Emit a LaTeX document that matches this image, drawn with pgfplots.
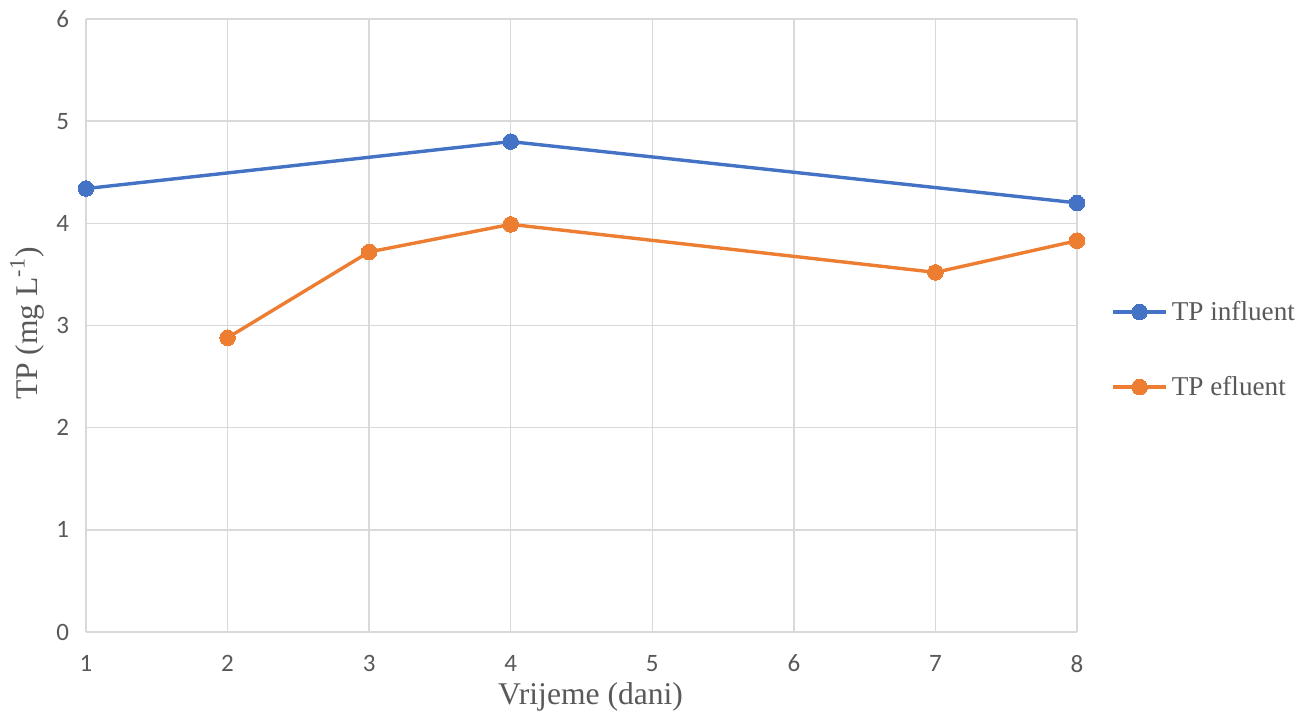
\documentclass[border=0pt]{standalone}
\usepackage{fontspec}
\setmainfont{Liberation Serif}
\newfontfamily\tickfont{Carlito}
\usepackage{pgfplots}
\pgfplotsset{compat=1.18}
\definecolor{cblue}{HTML}{4472C4}
\definecolor{corange}{HTML}{ED7D31}
\definecolor{cgrid}{HTML}{D9D9D9}
\definecolor{ctext}{HTML}{595959}
\begin{document}
\begin{tikzpicture}
\begin{axis}[
  at={(0,0)}, anchor=south west,
  scale only axis,
  width=495.5bp, height=306.5bp,
  xmin=1, xmax=8, ymin=0, ymax=6,
  xtick={1,...,8}, ytick={0,...,6},
  grid=major,
  grid style={cgrid, line width=0.75bp},
  axis line style={draw=cgrid, line width=0.75bp},
  axis lines=left,
  axis line style={-},
  major tick length=0pt,
  tick style={draw=none},
  ticklabel style={font=\tickfont\fontsize{12.5bp}{14bp}\selectfont, text=ctext},
  /pgf/number format/assume math mode=true,
  xticklabel style={yshift=-8bp},
  yticklabel style={xshift=-5bp},
  xlabel={Vrijeme (dani)},
  ylabel={TP (mg L\textsuperscript{-1})},
  label style={font=\fontsize{15.8bp}{18bp}\selectfont, text=ctext},
  xlabel style={at={(axis description cs:0.5,0)}, anchor=center, yshift=-32.5bp, xshift=4.5bp},
  ylabel style={at={(axis description cs:0,0.5)}, anchor=center, rotate=0, yshift=29.5bp, xshift=1bp},
  clip=false,
  legend style={draw=none, fill=none, at={(1,0.5)}, anchor=west, xshift=17bp, yshift=-12bp,
    font=\fontsize{13.6bp}{16bp}\selectfont, text=ctext,
    row sep=22.5bp, inner sep=0pt},
  legend cell align=left,
  legend image code/.code={%
    \draw[#1, mark=none] (0bp,0bp) -- (26.5bp,0bp);
    \draw[#1, only marks] plot coordinates {(13.25bp,0bp)};
  },
]
\addplot[color=cblue, line width=1.7bp, mark=*, mark size=3.9bp, mark options={fill=cblue, draw=cblue, line width=0bp}]
  coordinates {(1,4.34) (4,4.80) (8,4.20)};
\addlegendentry{TP influent}
\addplot[color=corange, line width=1.7bp, mark=*, mark size=3.9bp, mark options={fill=corange, draw=corange, line width=0bp}]
  coordinates {(2,2.88) (3,3.72) (4,3.99) (7,3.52) (8,3.83)};
\addlegendentry{TP efluent}
\end{axis}
\pgfresetboundingbox
\path[use as bounding box] (-43bp,-41.5bp) rectangle (607bp,316bp);
\end{tikzpicture}
\end{document}
